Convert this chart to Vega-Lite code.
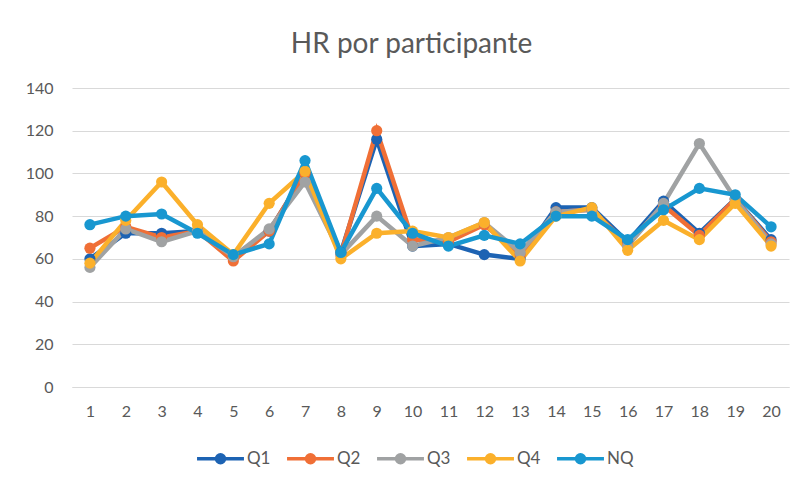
{
  "$schema": "https://vega.github.io/schema/vega-lite/v6.json",
  "width": 717,
  "height": 299,
  "autosize": "none",
  "padding": {"left": 72, "top": 88, "right": 13, "bottom": 101},
  "background": "white",
  "title": {"text": "HR por participante", "anchor": "middle", "fontSize": 28, "font": "Lato", "color": "#595959", "fontWeight": "normal", "offset": 21, "dx": -19},
  "data": {"values": [
    {"p":1,"s":"Q1","v":60},{"p":2,"s":"Q1","v":72},{"p":3,"s":"Q1","v":72},{"p":4,"s":"Q1","v":73},{"p":5,"s":"Q1","v":61},{"p":6,"s":"Q1","v":73},{"p":7,"s":"Q1","v":100},{"p":8,"s":"Q1","v":63},{"p":9,"s":"Q1","v":116},{"p":10,"s":"Q1","v":66},{"p":11,"s":"Q1","v":67},{"p":12,"s":"Q1","v":62},{"p":13,"s":"Q1","v":60},{"p":14,"s":"Q1","v":84},{"p":15,"s":"Q1","v":84},{"p":16,"s":"Q1","v":68},{"p":17,"s":"Q1","v":87},{"p":18,"s":"Q1","v":72},{"p":19,"s":"Q1","v":88},{"p":20,"s":"Q1","v":69},
    {"p":1,"s":"Q2","v":65},{"p":2,"s":"Q2","v":75},{"p":3,"s":"Q2","v":70},{"p":4,"s":"Q2","v":73},{"p":5,"s":"Q2","v":59},{"p":6,"s":"Q2","v":73},{"p":7,"s":"Q2","v":100},{"p":8,"s":"Q2","v":62},{"p":9,"s":"Q2","v":120},{"p":10,"s":"Q2","v":69},{"p":11,"s":"Q2","v":68},{"p":12,"s":"Q2","v":76},{"p":13,"s":"Q2","v":62},{"p":14,"s":"Q2","v":82},{"p":15,"s":"Q2","v":83},{"p":16,"s":"Q2","v":67},{"p":17,"s":"Q2","v":85},{"p":18,"s":"Q2","v":71},{"p":19,"s":"Q2","v":88},{"p":20,"s":"Q2","v":68},
    {"p":1,"s":"Q3","v":56},{"p":2,"s":"Q3","v":74},{"p":3,"s":"Q3","v":68},{"p":4,"s":"Q3","v":73},{"p":5,"s":"Q3","v":61},{"p":6,"s":"Q3","v":74},{"p":7,"s":"Q3","v":96},{"p":8,"s":"Q3","v":62},{"p":9,"s":"Q3","v":80},{"p":10,"s":"Q3","v":66},{"p":11,"s":"Q3","v":70},{"p":12,"s":"Q3","v":77},{"p":13,"s":"Q3","v":63},{"p":14,"s":"Q3","v":82},{"p":15,"s":"Q3","v":83},{"p":16,"s":"Q3","v":66},{"p":17,"s":"Q3","v":86},{"p":18,"s":"Q3","v":114},{"p":19,"s":"Q3","v":88},{"p":20,"s":"Q3","v":67},
    {"p":1,"s":"Q4","v":58},{"p":2,"s":"Q4","v":78},{"p":3,"s":"Q4","v":96},{"p":4,"s":"Q4","v":76},{"p":5,"s":"Q4","v":62},{"p":6,"s":"Q4","v":86},{"p":7,"s":"Q4","v":101},{"p":8,"s":"Q4","v":60},{"p":9,"s":"Q4","v":72},{"p":10,"s":"Q4","v":73},{"p":11,"s":"Q4","v":70},{"p":12,"s":"Q4","v":77},{"p":13,"s":"Q4","v":59},{"p":14,"s":"Q4","v":80},{"p":15,"s":"Q4","v":84},{"p":16,"s":"Q4","v":64},{"p":17,"s":"Q4","v":78},{"p":18,"s":"Q4","v":69},{"p":19,"s":"Q4","v":86},{"p":20,"s":"Q4","v":66},
    {"p":1,"s":"NQ","v":76},{"p":2,"s":"NQ","v":80},{"p":3,"s":"NQ","v":81},{"p":4,"s":"NQ","v":72},{"p":5,"s":"NQ","v":62},{"p":6,"s":"NQ","v":67},{"p":7,"s":"NQ","v":106},{"p":8,"s":"NQ","v":63},{"p":9,"s":"NQ","v":93},{"p":10,"s":"NQ","v":72},{"p":11,"s":"NQ","v":66},{"p":12,"s":"NQ","v":71},{"p":13,"s":"NQ","v":67},{"p":14,"s":"NQ","v":80},{"p":15,"s":"NQ","v":80},{"p":16,"s":"NQ","v":69},{"p":17,"s":"NQ","v":83},{"p":18,"s":"NQ","v":93},{"p":19,"s":"NQ","v":90},{"p":20,"s":"NQ","v":75}
  ]},
  "encoding": {
    "x": {"field": "p", "type": "ordinal", "scale": {"type": "point", "padding": 0.5},
      "axis": {"title": null, "labelAngle": 0, "ticks": false, "labelPadding": 16, "domainColor": "#d9d9d9", "domainWidth": 1, "grid": false}},
    "y": {"field": "v", "type": "quantitative", "scale": {"domain": [0, 140], "nice": false},
      "axis": {"title": null, "values": [0,20,40,60,80,100,120,140], "ticks": false, "domain": false, "labelPadding": 19, "gridColor": "#d9d9d9", "gridWidth": 1.2}},
    "color": {"field": "s", "type": "nominal",
      "scale": {"domain": ["Q1","Q2","Q3","Q4","NQ"], "range": ["#1d63b3","#f06f36","#a0a2a3","#fbb02b","#1897d0"]},
      "legend": {"title": null, "orient": "none", "legendX": 123, "legendY": 345, "direction": "horizontal",
        "symbolType": "M-1,0L1,0M-0.17,0A0.17,0.17,0,1,1,0.17,0A0.17,0.17,0,1,1,-0.17,0Z",
        "symbolSize": 2200, "symbolStrokeWidth": 3.5, "labelFontSize": 17, "labelFont": "Lato", "labelColor": "#595959",
        "labelOffset": 1, "columnPadding": 9}}
  },
  "layer": [
    {"mark": {"type": "line", "strokeWidth": 4.5}},
    {"mark": {"type": "point", "filled": true, "opacity": 1, "size": 125}}
  ],
  "config": {
    "axis": {"labelFont": "Lato", "labelFontSize": 16, "labelColor": "#595959"},
    "view": {"stroke": null}
  }
}
